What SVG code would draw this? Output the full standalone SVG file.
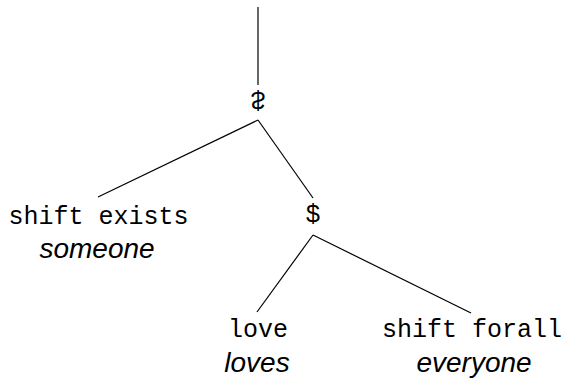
<svg xmlns="http://www.w3.org/2000/svg" width="564" height="378" viewBox="0 0 564 378">
<style>
.code{font-family:"Liberation Mono","DejaVu Sans Mono",monospace;font-size:25px;fill:#000;text-anchor:middle}
.word{font-family:"Liberation Sans",Arial,sans-serif;font-style:italic;font-size:28px;fill:#000;text-anchor:middle}
.edge{stroke:#000;stroke-width:1.2;fill:none}
</style>
<rect width="564" height="378" fill="#fff"/>
<g id="connectors">
<line class="edge" x1="258" y1="7" x2="258" y2="85"/>
<line class="edge" x1="258" y1="120" x2="98" y2="197"/>
<line class="edge" x1="258" y1="120" x2="313" y2="198"/>
<line class="edge" x1="313" y1="235" x2="257" y2="312"/>
<line class="edge" x1="313" y1="235" x2="471" y2="313"/>
</g>
<g id="root">
<text class="code" transform="translate(258,100.5) scale(1,-1)" x="0" y="8.3">$</text>
</g>
<g id="shift-exists">
<text class="code" x="98.5" y="224">shift exists</text>
<text class="word" x="97" y="258">someone</text>
</g>
<g id="dollar">
<text class="code" x="313" y="222">$</text>
</g>
<g id="love">
<text class="code" x="258" y="337">love</text>
<text class="word" x="257" y="372">loves</text>
</g>
<g id="shift-forall">
<text class="code" x="472" y="337">shift forall</text>
<text class="word" x="474" y="372">everyone</text>
</g>
</svg>
